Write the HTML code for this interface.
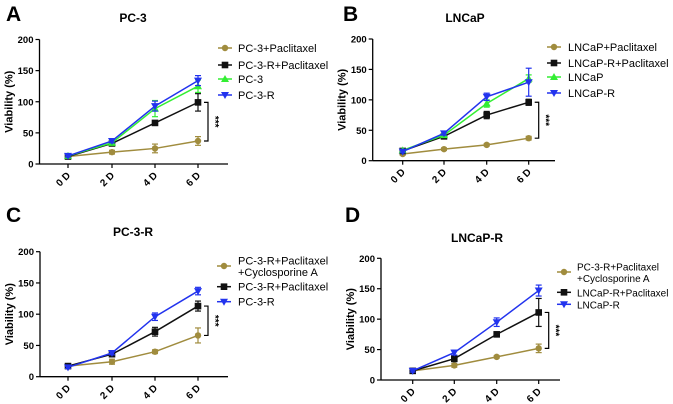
<!DOCTYPE html>
<html><head><meta charset="utf-8">
<style>
html,body{margin:0;padding:0;background:#fff;}
svg{display:block;font-family:"Liberation Sans",Arial,sans-serif;}
</style></head>
<body>
<svg id="fig" width="673" height="404" viewBox="0 0 673 404"></svg>
<script>
// ---- Data ----
const days = ["0 D","2 D","4 D","6 D"];
const yTicks = [0,50,100,150,200];

const aNames = ["PC-3+Paclitaxel","PC-3-R+Paclitaxel","PC-3","PC-3-R"];
const aVals = [[12,19,25,37],[12,33,66,99],[13,34,89,125],[13,37,93,134]];
const aErr  = [[2,3,7,7],[2,3,3,14],[2,3,13,10],[2,3,8,8]];

const bNames = ["LNCaP+Paclitaxel","LNCaP-R+Paclitaxel","LNCaP","LNCaP-R"];
const bVals = [[11,19,26,37],[16,40,75,96],[17,42,94,135],[15,45,105,129]];
const bErr  = [[2,2,2,3],[2,3,6,5],[2,3,6,6],[2,3,6,23]];

const cNames = ["PC-3-R+Paclitaxel|+Cyclosporine A","PC-3-R+Paclitaxel","PC-3-R"];
const cVals = [[17,24,40,66],[17,36,72,113],[15,38,96,137]];
const cErr  = [[3,4,3,12],[2,3,7,8],[2,3,6,6]];

const dNames = ["PC-3-R+Paclitaxel|+Cyclosporine A","LNCaP-R+Paclitaxel","LNCaP-R"];
const dVals = [[15,24,38,52],[15,35,75,111],[15,45,95,147]];
const dErr  = [[2,3,2,7],[2,5,4,23],[2,4,7,9]];

const C = {olive:"#a08c3e",black:"#111",green:"#33ee33",blue:"#2233ee"};
const NS="http://www.w3.org/2000/svg";
const svg=document.getElementById('fig');
function el(tag,attrs,parent,text){const e=document.createElementNS(NS,tag);for(const k in attrs)e.setAttribute(k,attrs[k]);if(text!==undefined)e.textContent=text;(parent||svg).appendChild(e);return e;}

function marker(g,type,x,y,col){
  let m;
  if(type==="circle") m=el('circle',{cx:x,cy:y,r:3.2,fill:col},g);
  else if(type==="square") m=el('rect',{x:x-3.3,y:y-3.3,width:6.6,height:6.6,fill:col},g);
  else if(type==="up") m=el('polygon',{points:`${x},${y-4} ${x-4},${y+3} ${x+4},${y+3}`,fill:col},g);
  else m=el('polygon',{points:`${x},${y+4} ${x-4},${y-3} ${x+4},${y-3}`,fill:col},g);
  return m;
}

function panel(p){
  const g=el('g',{});
  
  
  const ys=v=>p.y0-(v/200)*(p.y0-p.y200);
  const xs=i=>p.xt[i];
  const lab=el('text',{x:p.lx,y:p.ly,'font-size':21,'font-weight':'bold'},g,p.letter);
  
  
  const t=el('text',{x:p.tx,y:p.ty,'font-size':12,'font-weight':'bold','text-anchor':'middle'},g,p.title);
  
  
  const ya=el('line',{x1:p.ax,y1:p.y200,x2:p.ax,y2:p.y0,stroke:'#000','stroke-width':1.3},g);
  
  
  const xa=el('line',{x1:p.ax,y1:p.y0,x2:p.xend,y2:p.y0,stroke:'#000','stroke-width':1.3},g);
  
  
  yTicks.forEach(v=>{
    el('line',{x1:p.ax-4,y1:ys(v),x2:p.ax,y2:ys(v),stroke:'#000','stroke-width':1.2},g);
    const tl=el('text',{x:p.ax-6,y:ys(v)+3.5,'font-size':9.5,'font-weight':'bold','text-anchor':'end'},g,String(v));
    
    
  });
  days.forEach((d,i)=>{
    el('line',{x1:xs(i),y1:p.y0,x2:xs(i),y2:p.y0+4,stroke:'#000','stroke-width':1.2},g);
    const tl=el('text',{x:xs(i)+3,y:p.y0+12,'font-size':10,'font-weight':'bold','text-anchor':'end',transform:`rotate(-45 ${xs(i)+3} ${p.y0+12})`},g,d);
    
    
  });
  const ytl=el('text',{x:0,y:0,'font-size':11,'font-weight':'bold','text-anchor':'middle',transform:`translate(${p.ax-27} ${(p.y0+p.y200)/2}) rotate(-90)`},g,'Viability (%)');
  
  
  p.vals.forEach((vals,s)=>{
    const col=p.cols[s];
    const sg=el('g',{},g);
    
    
    el('polyline',{points:vals.map((v,i)=>xs(i)+','+ys(v)).join(' '),fill:'none',stroke:col,'stroke-width':1.5},sg);
    vals.forEach((v,i)=>{
      const e=p.err[s][i];
      el('line',{x1:xs(i),y1:ys(v+e),x2:xs(i),y2:ys(v-e),stroke:col,'stroke-width':1.2},sg);
      el('line',{x1:xs(i)-3,y1:ys(v+e),x2:xs(i)+3,y2:ys(v+e),stroke:col,'stroke-width':1.2},sg);
      el('line',{x1:xs(i)-3,y1:ys(v-e),x2:xs(i)+3,y2:ys(v-e),stroke:col,'stroke-width':1.2},sg);
      const m=marker(sg,p.marks[s],xs(i),ys(v),col);
      
      
    });
  });
  const top=ys(p.vals[1][3]), bot=ys(p.vals[0][3]), bx=xs(3)+10;
  const br=el('path',{d:`M${bx-4},${top} H${bx} V${bot} H${bx-4}`,fill:'none',stroke:'#000','stroke-width':1.2},g);
  
  
  const st=el('text',{x:0,y:0,'font-size':10,'font-weight':'bold','text-anchor':'middle',transform:`translate(${bx+4} ${(top+bot)/2}) rotate(90)`},g,'***');
  
  
  p.names.forEach((n,s)=>{
    const lg=el('g',{},g);
    
    
    const y=p.legY[s];
    el('line',{x1:p.legX,y1:y,x2:p.legX+14,y2:y,stroke:p.cols[s],'stroke-width':1.5},lg);
    marker(lg,p.marks[s],p.legX+7,y,p.cols[s]);
    const parts=n.split('|');
    const fs=p.legFs;
    if(parts.length===1) el('text',{x:p.legTx,y:y+4,'font-size':fs},lg,n);
    else {el('text',{x:p.legTx,y:y-1.5,'font-size':fs},lg,parts[0]);el('text',{x:p.legTx,y:y+10,'font-size':fs},lg,parts[1]);}
  });
}

panel({id:'a',letter:'A',lx:6,ly:21,title:'PC-3',tx:133,ty:22,ax:39.5,y0:164,y200:39.5,xend:228,xt:[68,112,155,198],
  vals:aVals,err:aErr,names:aNames,cols:[C.olive,C.black,C.green,C.blue],marks:['circle','square','up','down'],
  legX:218,legTx:238,legY:[48,65,79,95],legFs:11});
panel({id:'b',letter:'B',lx:343,ly:21,title:'LNCaP',tx:465,ty:22,ax:372.7,y0:160.7,y200:39,xend:555,xt:[402.7,444,486.7,528.7],
  vals:bVals,err:bErr,names:bNames,cols:[C.olive,C.black,C.green,C.blue],marks:['circle','square','up','down'],
  legX:547,legTx:568,legY:[47,63,77,93],legFs:11});
panel({id:'c',letter:'C',lx:6,ly:222,title:'PC-3-R',tx:133,ty:236,ax:40,y0:376.7,y200:251.7,xend:228,xt:[68,112,155,198],
  vals:cVals,err:cErr,names:cNames,cols:[C.olive,C.black,C.blue],marks:['circle','square','down'],
  legX:217,legTx:238,legY:[266,286.7,301.7],legFs:11});
panel({id:'d',letter:'D',lx:345,ly:222,title:'LNCaP-R',tx:477,ty:242,ax:381,y0:380,y200:258.3,xend:560,xt:[412.7,454.3,496.7,538.7],
  vals:dVals,err:dErr,names:dNames,cols:[C.olive,C.black,C.blue],marks:['circle','square','down'],
  legX:557,legTx:577,legY:[272,292.3,304.3],legFs:10});
</script>
</body></html>
